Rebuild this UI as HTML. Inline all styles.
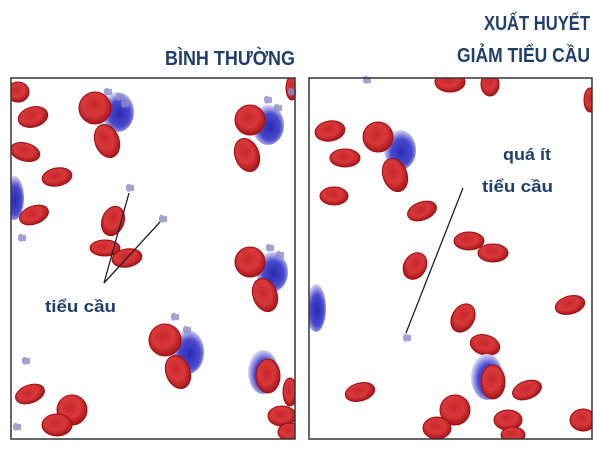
<!DOCTYPE html>
<html><head><meta charset="utf-8"><style>
body{margin:0;background:#fff;width:600px;height:450px;overflow:hidden}
svg{display:block}
text{font-family:"Liberation Sans",sans-serif;font-weight:bold;fill:#1f3f6a}
</style></head><body>
<svg width="600" height="450" viewBox="0 0 600 450" xmlns="http://www.w3.org/2000/svg">
<defs>
<radialGradient id="rb" cx="45%" cy="40%" r="60%"><stop offset="0" stop-color="#c8282c"/><stop offset="0.55" stop-color="#d9383a"/><stop offset="1" stop-color="#a8161a"/></radialGradient>
<radialGradient id="bl" cx="55%" cy="55%" r="55%"><stop offset="0" stop-color="#2a2ab0"/><stop offset="0.6" stop-color="#4a4ad0"/><stop offset="1" stop-color="#d8d8f4"/></radialGradient>
<clipPath id="cl"><rect x="11" y="78" width="284" height="361"/></clipPath>
<clipPath id="cr"><rect x="309" y="78" width="283" height="361"/></clipPath>
<g id="p"><path d="M-4,-2 q2,-4 5,-1 q4,-1 3,3 q1,4 -3,3 q-4,2 -5,-2z" fill="#8c8cc8" opacity="0.8"/></g>
</defs>
<text x="295" y="65" font-size="20" text-anchor="end" textLength="130" lengthAdjust="spacingAndGlyphs">BÌNH THƯỜNG</text>
<text x="590" y="30" font-size="20" text-anchor="end" textLength="106" lengthAdjust="spacingAndGlyphs">XUẤT HUYẾT</text>
<text x="590" y="62" font-size="20" text-anchor="end" textLength="133" lengthAdjust="spacingAndGlyphs">GIẢM TIỂU CẦU</text>

<g clip-path="url(#cl)" stroke="#9a1014" stroke-width="1">
<ellipse cx="18" cy="92" rx="11" ry="10" fill="url(#rb)"/>
<ellipse cx="33" cy="117" rx="15" ry="10" transform="rotate(-15 33 117)" fill="url(#rb)"/>
<ellipse cx="25" cy="152" rx="15" ry="9" transform="rotate(15 25 152)" fill="url(#rb)"/>
<ellipse cx="57" cy="177" rx="15" ry="9" transform="rotate(-10 57 177)" fill="url(#rb)"/>
<ellipse cx="14" cy="198" rx="10" ry="22" fill="url(#bl)" stroke="none"/>
<ellipse cx="34" cy="215" rx="15" ry="9" transform="rotate(-20 34 215)" fill="url(#rb)"/>
<ellipse cx="118" cy="112" rx="16" ry="20" fill="url(#bl)" stroke="none"/>
<circle cx="95" cy="108" r="16" fill="url(#rb)"/>
<ellipse cx="107" cy="141" rx="12" ry="17" transform="rotate(-20 107 141)" fill="url(#rb)"/>
<ellipse cx="113" cy="221" rx="11" ry="15" transform="rotate(20 113 221)" fill="url(#rb)"/>
<ellipse cx="105" cy="248" rx="15" ry="8" fill="url(#rb)"/>
<ellipse cx="127" cy="258" rx="15" ry="9" transform="rotate(-10 127 258)" fill="url(#rb)"/>
<ellipse cx="268" cy="125" rx="16" ry="20" fill="url(#bl)" stroke="none"/>
<circle cx="250" cy="120" r="15" fill="url(#rb)"/>
<ellipse cx="247" cy="155" rx="12" ry="17" transform="rotate(-20 247 155)" fill="url(#rb)"/>
<ellipse cx="292" cy="88" rx="6" ry="12" fill="url(#rb)"/>
<ellipse cx="272" cy="272" rx="16" ry="20" fill="url(#bl)" stroke="none"/>
<circle cx="250" cy="262" r="15" fill="url(#rb)"/>
<ellipse cx="265" cy="295" rx="12" ry="17" transform="rotate(-20 265 295)" fill="url(#rb)"/>
<ellipse cx="188" cy="352" rx="16" ry="22" fill="url(#bl)" stroke="none"/>
<circle cx="165" cy="340" r="16" fill="url(#rb)"/>
<ellipse cx="178" cy="372" rx="12" ry="17" transform="rotate(-20 178 372)" fill="url(#rb)"/>
<ellipse cx="263" cy="372" rx="15" ry="22" fill="url(#bl)" stroke="none"/>
<ellipse cx="268" cy="376" rx="12" ry="17" fill="url(#rb)"/>
<ellipse cx="290" cy="392" rx="7" ry="14" fill="url(#rb)"/>
<ellipse cx="30" cy="394" rx="15" ry="9" transform="rotate(-20 30 394)" fill="url(#rb)"/>
<circle cx="72" cy="410" r="15" fill="url(#rb)"/>
<ellipse cx="57" cy="425" rx="15" ry="11" fill="url(#rb)"/>
<ellipse cx="282" cy="416" rx="14" ry="10" fill="url(#rb)"/>
<ellipse cx="290" cy="432" rx="12" ry="9" fill="url(#rb)"/>
</g>
<g fill="#8c8cc8" stroke="none">
<use href="#p" x="120" y="97"/><use href="#p" x="108" y="92"/><use href="#p" x="125" y="104"/>
<use href="#p" x="268" y="100"/><use href="#p" x="278" y="108"/>
<use href="#p" x="130" y="188"/><use href="#p" x="163" y="219"/><use href="#p" x="22" y="238"/>
<use href="#p" x="270" y="248"/><use href="#p" x="280" y="255"/>
<use href="#p" x="175" y="317"/><use href="#p" x="187" y="330"/>
<use href="#p" x="26" y="361"/><use href="#p" x="17" y="427"/><use href="#p" x="292" y="92"/>
</g>
<g stroke="#222" stroke-width="1.3"><line x1="104" y1="283" x2="129" y2="193"/><line x1="104" y1="283" x2="160" y2="222"/></g>
<text x="45" y="312" font-size="17" textLength="71" lengthAdjust="spacingAndGlyphs">tiểu cầu</text>

<g clip-path="url(#cr)" stroke="#9a1014" stroke-width="1">
<ellipse cx="330" cy="131" rx="15" ry="10" transform="rotate(-10 330 131)" fill="url(#rb)"/>
<ellipse cx="345" cy="158" rx="15" ry="9" fill="url(#rb)"/>
<ellipse cx="334" cy="196" rx="14" ry="9" fill="url(#rb)"/>
<ellipse cx="400" cy="150" rx="16" ry="20" fill="url(#bl)" stroke="none"/>
<circle cx="378" cy="137" r="15" fill="url(#rb)"/>
<ellipse cx="395" cy="175" rx="12" ry="17" transform="rotate(-20 395 175)" fill="url(#rb)"/>
<ellipse cx="422" cy="211" rx="15" ry="9" transform="rotate(-20 422 211)" fill="url(#rb)"/>
<ellipse cx="450" cy="82" rx="15" ry="10" fill="url(#rb)"/>
<ellipse cx="490" cy="84" rx="9" ry="12" fill="url(#rb)"/>
<ellipse cx="590" cy="100" rx="6" ry="12" fill="url(#rb)"/>
<ellipse cx="469" cy="241" rx="15" ry="9" fill="url(#rb)"/>
<ellipse cx="493" cy="253" rx="15" ry="9" fill="url(#rb)"/>
<ellipse cx="415" cy="266" rx="11" ry="14" transform="rotate(30 415 266)" fill="url(#rb)"/>
<ellipse cx="316" cy="308" rx="10" ry="24" fill="url(#bl)" stroke="none"/>
<ellipse cx="570" cy="305" rx="15" ry="9" transform="rotate(-15 570 305)" fill="url(#rb)"/>
<ellipse cx="463" cy="318" rx="11" ry="15" transform="rotate(30 463 318)" fill="url(#rb)"/>
<ellipse cx="485" cy="345" rx="15" ry="10" transform="rotate(15 485 345)" fill="url(#rb)"/>
<ellipse cx="487" cy="377" rx="16" ry="23" fill="url(#bl)" stroke="none"/>
<ellipse cx="493" cy="382" rx="12" ry="17" fill="url(#rb)"/>
<ellipse cx="527" cy="390" rx="15" ry="9" transform="rotate(-20 527 390)" fill="url(#rb)"/>
<ellipse cx="360" cy="392" rx="15" ry="9" transform="rotate(-15 360 392)" fill="url(#rb)"/>
<circle cx="455" cy="410" r="15" fill="url(#rb)"/>
<ellipse cx="437" cy="428" rx="14" ry="11" fill="url(#rb)"/>
<ellipse cx="508" cy="420" rx="14" ry="10" fill="url(#rb)"/>
<ellipse cx="513" cy="435" rx="12" ry="8" fill="url(#rb)"/>
<ellipse cx="583" cy="420" rx="13" ry="11" fill="url(#rb)"/>
</g>
<g><use href="#p" x="367" y="80"/><use href="#p" x="407" y="338"/></g>
<line x1="463" y1="188" x2="406" y2="333" stroke="#222" stroke-width="1.3"/>
<text x="503" y="160" font-size="17" textLength="48" lengthAdjust="spacingAndGlyphs">quá ít</text>
<text x="482" y="192" font-size="17" textLength="71" lengthAdjust="spacingAndGlyphs">tiểu cầu</text>

<rect x="11" y="78" width="284" height="361" fill="none" stroke="#333" stroke-width="1.5"/>
<rect x="309" y="78" width="283" height="361" fill="none" stroke="#333" stroke-width="1.5"/>
</svg>
</body></html>
